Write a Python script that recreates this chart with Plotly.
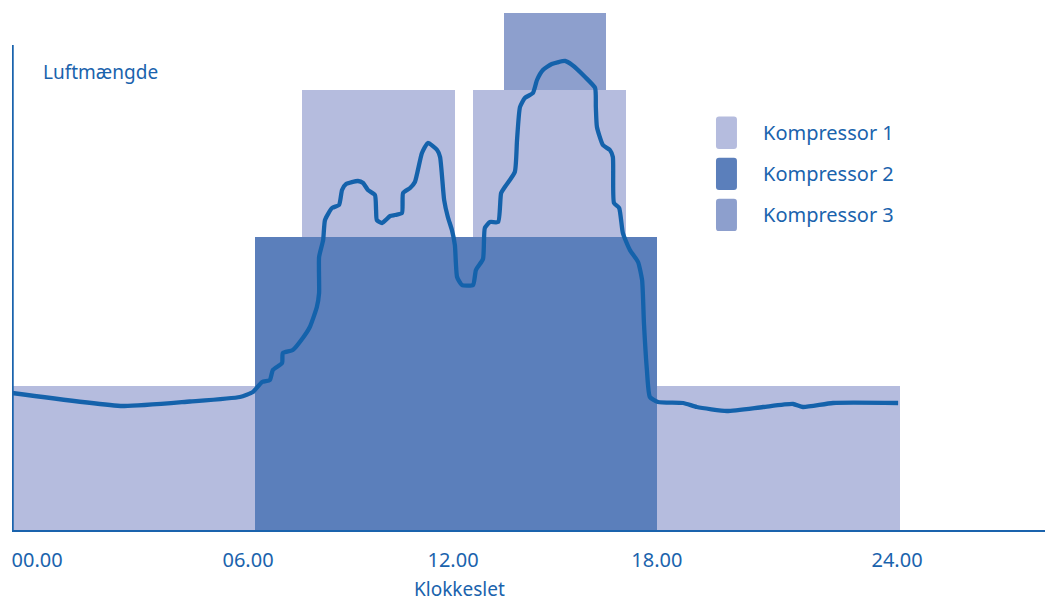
import plotly.graph_objects as go

# Compressor operating blocks: start/end hour and lower/upper air-volume level
k1_start = [0.0, 17.43, 7.84, 12.46]
k1_end = [6.57, 24.0, 11.97, 16.59]
k1_low = [0.0, 0.0, 58.6, 58.6]
k1_high = [28.8, 28.8, 88.0, 88.0]

k2_start = [6.57]
k2_end = [17.43]
k2_low = [0.0]
k2_high = [58.6]

k3_start = [13.30]
k3_end = [16.05]
k3_low = [88.0]
k3_high = [103.4]

# Air demand over the day (hour, air volume)
demand_hour = [0.0, 3.0, 4.81, 6.16, 6.51, 6.76, 6.97, 7.05, 7.30, 7.32, 7.59, 7.86,
               8.05, 8.24, 8.30, 8.30, 8.41, 8.46, 8.65, 8.84, 8.92, 9.03, 9.35, 9.49,
               9.62, 9.81, 9.84, 9.86, 10.0, 10.22, 10.35, 10.54, 10.57, 10.76, 10.89,
               11.08, 11.24, 11.49, 11.57, 11.68, 11.78, 11.89, 11.97, 12.03, 12.16,
               12.46, 12.54, 12.73, 12.78, 12.92, 13.14, 13.22, 13.32, 13.59, 13.65,
               13.73, 13.86, 14.08, 14.19, 14.35, 14.59, 14.95, 15.14, 15.49, 15.76,
               15.78, 15.81, 15.97, 16.16, 16.24, 16.27, 16.41, 16.51, 16.70, 16.92,
               17.03, 17.08, 17.16, 17.24, 17.46, 18.14, 18.51, 19.32, 20.30, 21.11,
               21.38, 22.19, 23.95]
demand_value = [27.4, 24.8, 25.7, 26.6, 27.6, 29.6, 30.0, 32.0, 33.4, 35.4, 36.0, 38.4,
                40.6, 44.6, 47.4, 54.6, 58.0, 62.0, 64.4, 65.0, 68.0, 69.2, 69.8, 69.4,
                68.0, 67.0, 64.0, 62.0, 61.4, 62.8, 63.0, 63.4, 67.4, 68.4, 69.6,
                75.4, 77.4, 76.0, 74.6, 66.0, 62.6, 60.0, 57.0, 50.6, 49.0,
                49.0, 52.0, 54.2, 60.4, 61.6, 61.6, 67.4, 68.6, 71.6, 78.0,
                84.6, 86.4, 87.4, 90.0, 92.0, 93.2, 93.8, 93.0, 90.6, 88.4,
                84.6, 80.6, 77.0, 76.0, 74.6, 65.4, 64.4, 59.4, 56.0, 53.6,
                50.0, 41.4, 32.0, 26.6, 25.6, 25.4, 24.6, 23.8, 24.6, 25.2,
                24.6, 25.4, 25.4]

tick_pos = [0.68, 6.38, 11.92, 17.43, 23.92]
tick_text = ["00.00", "06.00", "12.00", "18.00", "24.00"]

names = ["Kompressor 1", "Kompressor 2", "Kompressor 3"]
colors = ["#b5bcde", "#5b7fbb", "#8d9fcd"]
text_blue = "#1a63ad"
line_blue = "#1462ab"
font_family = "Noto Sans"

fig = go.Figure()


def add_blocks(start, end, low, high, color, name):
    fig.add_trace(go.Bar(
        x=[(s + e) / 2 for s, e in zip(start, end)],
        width=[e - s for s, e in zip(start, end)],
        base=low,
        y=[h - l for l, h in zip(low, high)],
        marker=dict(color=color, line=dict(width=0)),
        name=name,
        showlegend=False,
        hoverinfo="skip",
    ))


add_blocks(k1_start, k1_end, k1_low, k1_high, colors[0], names[0])
add_blocks(k2_start, k2_end, k2_low, k2_high, colors[1], names[1])
add_blocks(k3_start, k3_end, k3_low, k3_high, colors[2], names[2])

fig.add_trace(go.Scatter(
    x=demand_hour, y=demand_value, mode="lines",
    line=dict(color=line_blue, width=4.3, shape="spline", smoothing=0.5),
    showlegend=False, hoverinfo="skip",
))

# vertical axis line
fig.add_shape(type="line", xref="x", yref="y", x0=0.02, x1=0.02, y0=0, y1=97,
              line=dict(color=text_blue, width=2))


def rounded_rect(x0, x1, y0, y1, rx, ry):
    return (f"M{x0 + rx},{y0} L{x1 - rx},{y0} Q{x1},{y0} {x1},{y0 + ry} "
            f"L{x1},{y1 - ry} Q{x1},{y1} {x1 - rx},{y1} L{x0 + rx},{y1} "
            f"Q{x0},{y1} {x0},{y1 - ry} L{x0},{y0 + ry} Q{x0},{y0} {x0 + rx},{y0} Z")


# legend drawn as rounded swatches with labels
swatch_bottom = [0.719, 0.6415, 0.564]
swatch_h = 0.061
for name, color, bot in zip(names, colors, swatch_bottom):
    fig.add_shape(type="path", xref="paper", yref="paper",
                  path=rounded_rect(0.6815, 0.7018, bot, bot + swatch_h, 0.003, 0.006),
                  fillcolor=color, line=dict(width=0), layer="above")
    fig.add_annotation(xref="paper", yref="paper", x=0.7255, y=bot + swatch_h / 2,
                       text=name, showarrow=False, xanchor="left", yanchor="middle",
                       font=dict(family=font_family, size=20, color=text_blue))

fig.add_annotation(xref="paper", yref="paper", x=0.0282, y=0.864,
                   text="Luftmængde", showarrow=False, xanchor="left", yanchor="middle",
                   font=dict(family=font_family, size=19, color=text_blue))

fig.add_annotation(xref="x", yref="paper", x=12.1, y=-0.112,
                   text="Klokkeslet", showarrow=False, xanchor="center", yanchor="middle",
                   font=dict(family=font_family, size=19, color=text_blue))

fig.update_layout(
    width=1045, height=601,
    margin=dict(l=12, r=0, t=0, b=71),
    paper_bgcolor="white", plot_bgcolor="white",
    barmode="overlay", bargap=0,
    xaxis=dict(range=[0, 27.92], showgrid=False, zeroline=False,
               showline=True, linecolor=text_blue, linewidth=2,
               tickvals=tick_pos, ticktext=tick_text, ticks="",
               ticklabelstandoff=11,
               tickfont=dict(family=font_family, size=20, color=text_blue)),
    yaxis=dict(range=[0, 106], showgrid=False, zeroline=False, showline=False,
               showticklabels=False, ticks=""),
)

fig.write_html("out.html")
